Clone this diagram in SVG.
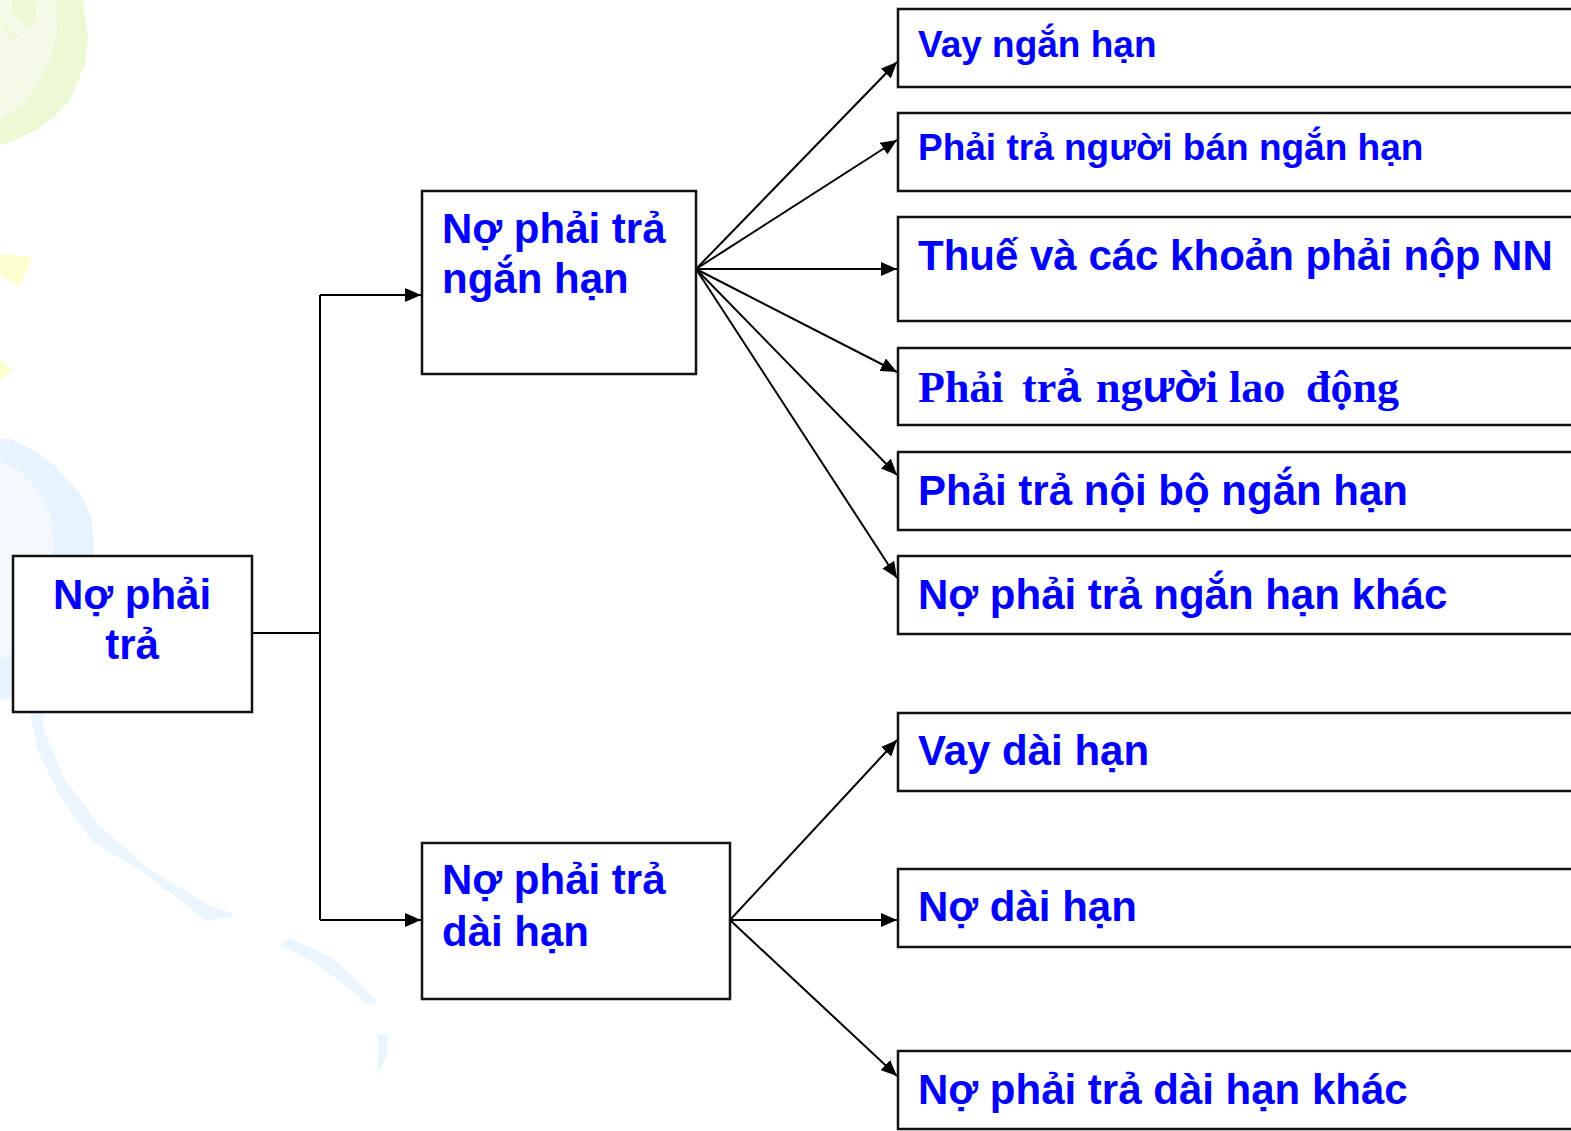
<svg xmlns="http://www.w3.org/2000/svg" width="1571" height="1131" viewBox="0 0 1571 1131">
  <style>
    .box { fill: #ffffff; stroke: #111111; stroke-width: 2.5; }
    .lbl { font-family: "Liberation Sans", Arial, sans-serif; font-weight: bold; fill: #0000ff; }
    .ser { font-family: "Liberation Serif", "Times New Roman", serif; font-weight: bold; fill: #0000ff; }
    .wire { fill: none; stroke: #000000; stroke-width: 2; }
    .arr { fill: none; stroke: #000000; stroke-width: 2; marker-end: url(#head); }
  </style>
  <defs>
    <marker id="head" markerUnits="userSpaceOnUse" markerWidth="16" markerHeight="14" refX="16" refY="7" orient="auto">
      <path d="M0,0 L16,7 L0,14 z" fill="#000000"/>
    </marker>
  </defs>

  <rect x="0" y="0" width="1571" height="1131" fill="#ffffff"/>

  <!-- pale background ornaments -->
  <g id="ornaments">
    <path d="M0,0 L83,0 L88,39 L85,64 L70,100 L55,116 L37,130 L13,141 L0,145 Z" fill="#edf9d5"/>
    <path d="M0,0 L55,0 L57,29 L50,61 L38,82 L23,104 L0,118 Z" fill="#f4fbe9"/>
    <path d="M12,0 L37,0 L35,20 L30,28 L18,20 L12,10 Z" fill="#edf9d5"/>
    <path d="M0,21 L6,32 L13,41 L20,36 L10,30 L3,20 Z" fill="#edf9d5"/>
    <path d="M0,254 L32,257 L20,287 L0,275 Z" fill="#feffcf"/>
    <path d="M0,359 L13,371 L0,379 Z" fill="#feffcf"/>
    <path d="M0,439 L11,439 L40,454 L53,464 L80,493 L92,518 L94,546 L90,600 L60,650 L30,680 L13,698 L0,700 Z" fill="#e8f4fd"/>
    <path d="M0,461 L20,471 L37,489 L50,514 L53,536 L53,600 L35,640 L0,660 Z" fill="#f3f9fe"/>
    <path d="M30,712 L38,751 L60,796 L93,842 L143,872 L207,921 L237,915 L210,906 L147,868 L100,826 L63,777 L43,728 L44,712 Z" fill="#eaf5fe"/>
    <path d="M280,945 L290,938 L333,958 L353,977 L377,1002 L367,1004 L350,989 L313,962 Z" fill="#eaf5fe"/>
    <path d="M378,1034 L388,1034 L387,1056 L377,1075 L378,1049 Z" fill="#eaf5fe"/>
  </g>

  <!-- connectors -->
  <g id="connectors">
    <path class="wire" d="M252,633 L320,633"/>
    <path class="wire" d="M320,295 L320,920"/>
    <path class="arr" d="M320,295 L421,295"/>
    <path class="arr" d="M320,920 L421,920"/>

    <path class="arr" d="M696,269 L897,62"/>
    <path class="arr" d="M696,269 L897,140"/>
    <path class="arr" d="M696,269 L897,269"/>
    <path class="arr" d="M696,269 L897,372"/>
    <path class="arr" d="M696,269 L897,475"/>
    <path class="arr" d="M696,269 L897,578"/>

    <path class="arr" d="M730,920 L897,740"/>
    <path class="arr" d="M730,920 L897,920"/>
    <path class="arr" d="M730,920 L897,1076"/>
  </g>

  <!-- root -->
  <g id="no-phai-tra">
    <rect class="box" x="13" y="556" width="239" height="156"/>
    <text class="lbl" font-size="42" text-anchor="middle" x="132" y="609">Nợ phải</text>
    <text class="lbl" font-size="42" text-anchor="middle" x="132" y="659">trả</text>
  </g>

  <!-- second level -->
  <g id="ngan-han">
    <rect class="box" x="422" y="191" width="274" height="183"/>
    <text class="lbl" font-size="42" x="442" y="243">Nợ phải trả</text>
    <text class="lbl" font-size="42" x="442" y="293">ngắn hạn</text>
  </g>
  <g id="dai-han">
    <rect class="box" x="422" y="843" width="308" height="156"/>
    <text class="lbl" font-size="42" x="442" y="894">Nợ phải trả</text>
    <text class="lbl" font-size="42" x="442" y="946">dài hạn</text>
  </g>

  <!-- short-term items -->
  <g id="vay-ngan-han">
    <rect class="box" x="898" y="9" width="700" height="78"/>
    <text class="lbl" font-size="37" x="918" y="57">Vay ngắn hạn</text>
  </g>
  <g id="phai-tra-nguoi-ban">
    <rect class="box" x="898" y="113" width="700" height="78"/>
    <text class="lbl" font-size="37" x="918" y="160">Phải trả người bán ngắn hạn</text>
  </g>
  <g id="thue">
    <rect class="box" x="898" y="217" width="700" height="104"/>
    <text class="lbl" font-size="42" x="918" y="270">Thuế và các khoản phải nộp NN</text>
  </g>
  <g id="nguoi-lao-dong">
    <rect class="box" x="898" y="348" width="700" height="77"/>
    <text class="ser" font-size="44" y="402"><tspan x="918">Phải</tspan><tspan x="1022">tr</tspan><tspan class="lbl" font-size="44">ả</tspan><tspan x="1096">ng</tspan><tspan class="lbl" font-size="44">ườ</tspan><tspan>i</tspan><tspan x="1229">lao</tspan><tspan x="1306">động</tspan></text>
  </g>
  <g id="noi-bo">
    <rect class="box" x="898" y="452" width="700" height="78"/>
    <text class="lbl" font-size="42" x="918" y="505">Phải trả nội bộ ngắn hạn</text>
  </g>
  <g id="ngan-han-khac">
    <rect class="box" x="898" y="556" width="700" height="78"/>
    <text class="lbl" font-size="42" x="918" y="609">Nợ phải trả ngắn hạn khác</text>
  </g>

  <!-- long-term items -->
  <g id="vay-dai-han">
    <rect class="box" x="898" y="713" width="700" height="78"/>
    <text class="lbl" font-size="42" x="918" y="765">Vay dài hạn</text>
  </g>
  <g id="no-dai-han">
    <rect class="box" x="898" y="869" width="700" height="78"/>
    <text class="lbl" font-size="42" x="918" y="921">Nợ dài hạn</text>
  </g>
  <g id="dai-han-khac">
    <rect class="box" x="898" y="1051" width="700" height="78"/>
    <text class="lbl" font-size="42" x="918" y="1104">Nợ phải trả dài hạn khác</text>
  </g>
</svg>
